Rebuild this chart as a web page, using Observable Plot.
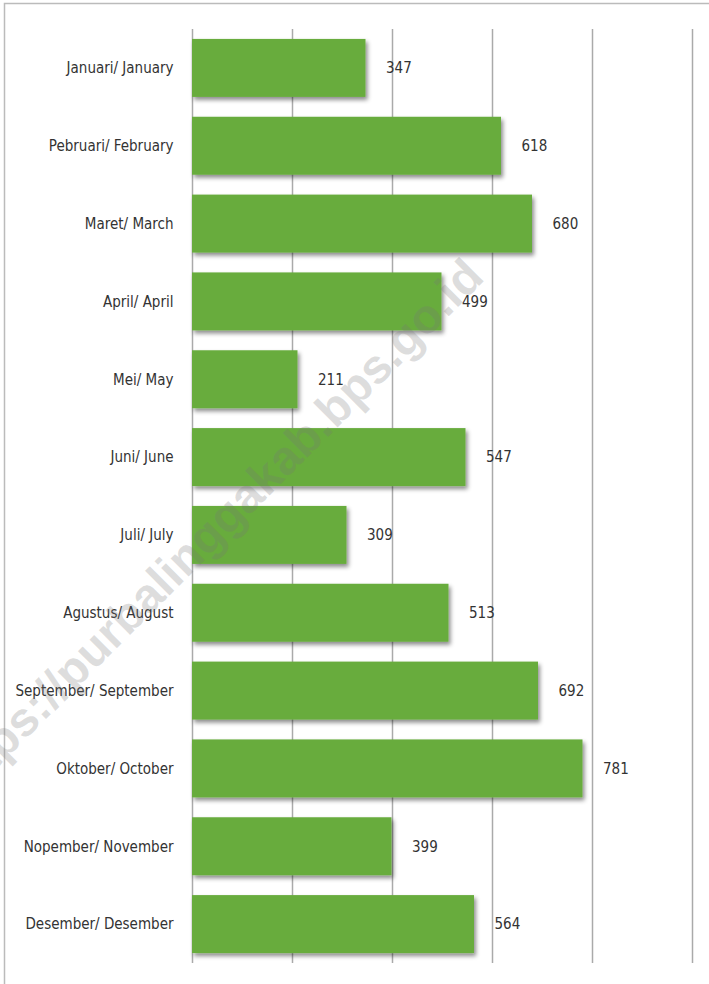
<!DOCTYPE html>
<html>
<head>
<meta charset="utf-8">
<script src="https://cdn.jsdelivr.net/npm/d3@7"></script>
<script src="https://cdn.jsdelivr.net/npm/@observablehq/plot@0.6"></script>
<style>
  html, body { margin: 0; padding: 0; background: #fff; }
  #chart { position: relative; width: 709px; height: 984px; }
</style>
</head>
<body>
<div id="chart"></div>
<script>
const months = [
  "Januari/ January", "Pebruari/ February", "Maret/ March", "April/ April",
  "Mei/ May", "Juni/ June", "Juli/ July", "Agustus/ August",
  "September/ September", "Oktober/ October", "Nopember/ November", "Desember/ Desember"
];
const values = [347, 618, 680, 499, 211, 547, 309, 513, 692, 781, 399, 564];
const gridTicks = [0, 200, 400, 600, 800, 1000];
const watermark = "https://purbalinggakab.bps.go.id";

const data = months.map((m, i) => ({month: m, value: values[i]}));
const font = "'Liberation Sans Narrow', 'DejaVu Sans Condensed', 'Roboto Condensed', sans-serif";

const plot = Plot.plot({
  width: 709,
  height: 984,
  marginLeft: 192,
  marginRight: 17,
  marginTop: 29,
  marginBottom: 21,
  style: {fontFamily: font, fontSize: "15px", color: "#333", background: "#fff", overflow: "visible"},
  x: {domain: [0, 1000], axis: null},
  y: {domain: months, paddingInner: 0.255, paddingOuter: 0.1275, round: false, label: null, tickSize: 0, tickPadding: 19},
  marks: [
    Plot.ruleX(gridTicks, {stroke: "#aaa", strokeWidth: 1.5}),
    Plot.barX(data, {x: "value", y: "month", fill: "#68ac3e", className: "bars"}),
    Plot.text(data, {x: "value", y: "month", text: d => String(d.value), textAnchor: "start", dx: 20, fill: "#333", fontSize: 15}),
    Plot.axisY({tickSize: 0, tickPadding: 19, fontSize: 15, fill: "#333", label: null})
  ]
});

const svg = d3.select(plot);
const defs = svg.insert("defs", ":first-child");
const f = defs.append("filter").attr("id", "shadow").attr("x", "-10%").attr("y", "-20%").attr("width", "130%").attr("height", "160%");
f.append("feDropShadow").attr("dx", 2).attr("dy", 3).attr("stdDeviation", 2.2).attr("flood-color", "#000").attr("flood-opacity", 0.45);
svg.selectAll("g.bars, g[aria-label='bar']").attr("filter", "url(#shadow)");

// frame
svg.append("rect").attr("x", 4.5).attr("y", 3.5).attr("width", 760).attr("height", 1100)
  .attr("fill", "none").attr("stroke", "#bbb").attr("stroke-width", 1.5);

// watermark
svg.append("text")
  .attr("transform", "translate(486,279) rotate(-45)")
  .attr("text-anchor", "end")
  .attr("font-family", "'Liberation Sans', Arial, sans-serif")
  .attr("font-weight", "bold")
  .attr("font-size", 48)
  .attr("fill", "#777")
  .attr("fill-opacity", 0.25)
  .text(watermark);

document.getElementById("chart").appendChild(plot);
</script>
</body>
</html>
